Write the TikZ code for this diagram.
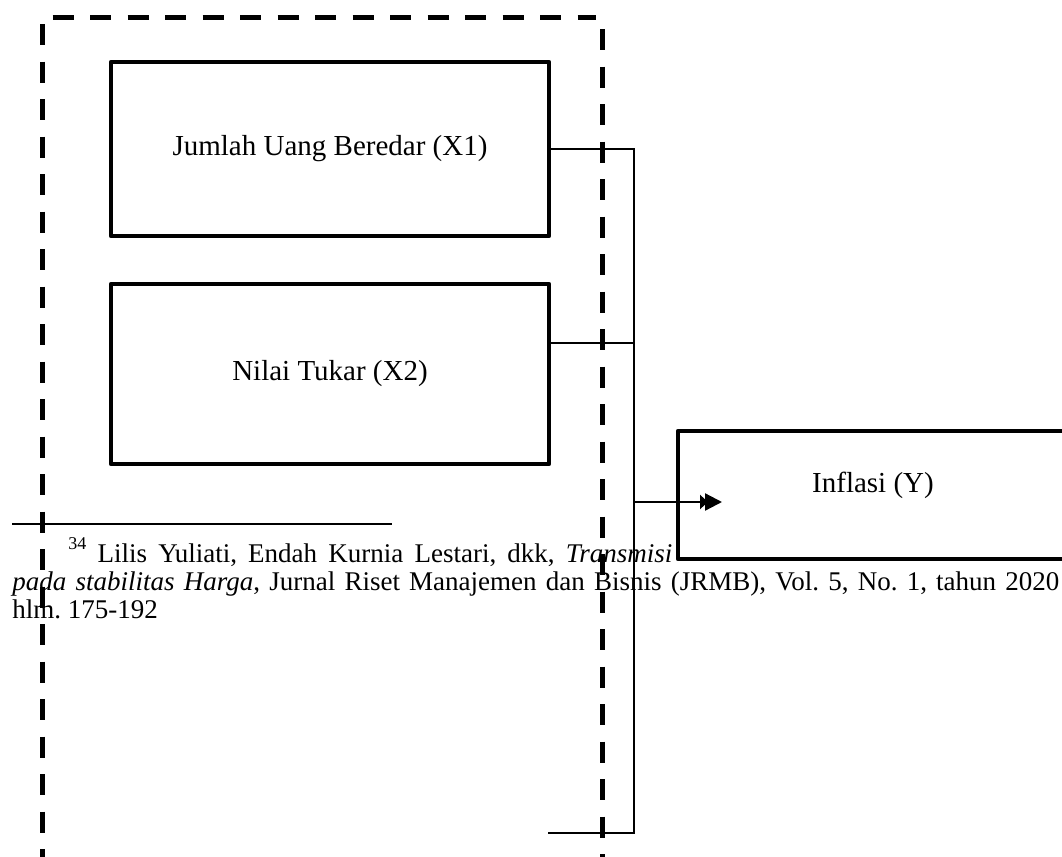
\documentclass[tikz,border=0pt]{standalone}
\usepackage{fontspec}
\setmainfont{Liberation Serif}
\usetikzlibrary{arrows.meta}
\frenchspacing
\begin{document}
\begin{tikzpicture}[x=0.5pt,y=-0.5pt,
  varbox/.style={draw,line width=2.2pt,line join=round,minimum width=219pt,
    inner sep=0pt,font=\fontsize{14.5}{16}\selectfont},
  conn/.style={line width=1.15pt},
  frameline/.style={line width=2.5pt,dash pattern=on 10.5pt off 8.25pt},
  note/.style={anchor=base west,inner sep=0pt,font=\fontsize{13.5}{15}\selectfont}]
\useasboundingbox (0,0) rectangle (1062,857);
\clip (0,0) rectangle (1062,857);

% footnote separator and footnote text
\coordinate (rulel) at (12,524);
\coordinate (ruler) at (392,524);
\draw[line width=1.1pt] (rulel) -- (ruler);
\node[note] (fn1) at (68,562) {\hbox to 302pt{\raisebox{0.45em}{\fontsize{9}{9}\selectfont 34} Lilis Yuliati, Endah Kurnia Lestari, dkk, \textit{Transmisi}}};
\node[note] (fn2) at (12,590) {\hbox to 523.5pt{\textit{pada stabilitas Harga}, Jurnal Riset Manajemen dan Bisnis (JRMB), Vol. 5, No. 1, tahun 2020}};
\node[note] (fn3) at (12,618) {hlm. 175-192};

% variable boxes
\node[varbox,minimum height=87pt] (x1) at (330,149) {Jumlah Uang Beredar (X1)};
\node[varbox,minimum height=90pt] (x2) at (330,374) {Nilai Tukar (X2)};
\node[draw,fill=white,line width=2.2pt,line join=round,minimum width=236pt,
  minimum height=64pt,inner sep=0pt] (y) at (914,495) {};
\node[font=\fontsize{14.5}{16}\selectfont,inner sep=0pt] (ylab) at (873,485) {Inflasi (Y)};

% dashed frame (open at the bottom)
\coordinate (fla) at (42,24);
\coordinate (flb) at (42,870);
\coordinate (fta) at (52.6,17.5);
\coordinate (ftb) at (596,17.5);
\coordinate (fra) at (602,29);
\coordinate (frb) at (602,870);
\draw[frameline] (fla) -- (flb);
\draw[frameline] (fta) -- (ftb);
\draw[frameline] (fra) -- (frb);

% connectors
\coordinate (b1) at (634,149);
\coordinate (b2) at (634,343);
\coordinate (bend) at (634,833);
\coordinate (tail) at (548,833);
\coordinate (ain) at (634,502);
\coordinate (tip) at (722,502);
\draw[conn] (x1.east) -- (b1) -- (bend) -- (tail);
\draw[conn] (x2.east |- b2) -- (b2);
\draw[conn,-{Triangle[length=4pt,width=7pt,sep=-1.5pt]Triangle[length=8.5pt,width=8.5pt]}] (ain) -- (tip);
\end{tikzpicture}
\end{document}
